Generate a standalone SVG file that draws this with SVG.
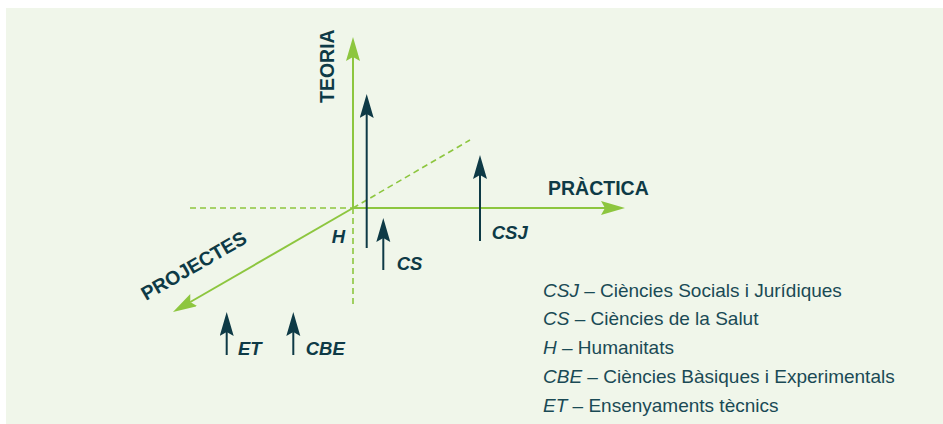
<svg xmlns="http://www.w3.org/2000/svg" width="943" height="424" viewBox="0 0 943 424">
<style>
.g{stroke:#8dc63f;stroke-width:2;fill:none}
.gd{stroke:#8dc63f;stroke-width:1.6;fill:none;stroke-dasharray:6 4}
.d{stroke:#0e3a46;stroke-width:2;fill:none}
.lab{font-family:"Liberation Sans",Arial,sans-serif;font-weight:bold;font-style:italic;font-size:18.5px;fill:#0e3a46}
.ax{font-family:"Liberation Sans",Arial,sans-serif;font-weight:bold;font-size:19.5px;fill:#0e3a46}
.leg{font-family:"Liberation Sans",Arial,sans-serif;font-size:19px;fill:#1a4a55}
.leg tspan.i{font-style:italic}
</style>
<defs>
<marker id="ag" markerUnits="userSpaceOnUse" markerWidth="26" markerHeight="16" viewBox="0 0 26 16" refX="4" refY="7" orient="auto">
<path d="M0,0 L24,7 L0,14 L4,7 Z" fill="#8dc63f"/>
</marker>
<marker id="ad" markerUnits="userSpaceOnUse" markerWidth="26" markerHeight="16" viewBox="0 0 26 16" refX="4" refY="7" orient="auto">
<path d="M0,0 L24,7 L0,14 L4,7 Z" fill="#0e3a46"/>
</marker>
</defs>
<rect x="6" y="8" width="937" height="416" fill="#f0f6ea"/>
<g id="connectors">
<line class="gd" x1="190" y1="208" x2="353" y2="208"/>
<line class="gd" x1="353" y1="208" x2="353" y2="307"/>
<line class="gd" x1="353" y1="208" x2="470" y2="140"/>
<line class="g" x1="353" y1="208" x2="353" y2="57" marker-end="url(#ag)"/>
<line class="g" x1="353" y1="208" x2="605" y2="208" marker-end="url(#ag)"/>
<line class="g" x1="353" y1="208" x2="190.3" y2="302" marker-end="url(#ag)"/>
<line class="d" x1="366.7" y1="248" x2="366.7" y2="114" marker-end="url(#ad)"/>
<line class="d" x1="383.3" y1="270" x2="383.3" y2="238" marker-end="url(#ad)"/>
<line class="d" x1="480" y1="241" x2="480" y2="175" marker-end="url(#ad)"/>
<line class="d" x1="226.7" y1="355" x2="226.7" y2="332" marker-end="url(#ad)"/>
<line class="d" x1="293.3" y1="355" x2="293.3" y2="332" marker-end="url(#ad)"/>
</g>
<g id="axis-teoria"><text class="ax" transform="translate(334,103) rotate(-90)">TEORIA</text></g>
<g id="axis-practica"><text class="ax" x="548" y="195">PRÀCTICA</text></g>
<g id="axis-projectes"><text class="ax" transform="translate(146,301) rotate(-30)">PROJECTES</text></g>
<g id="node-H"><text class="lab" x="331.7" y="243">H</text></g>
<g id="node-CS"><text class="lab" x="396.7" y="270">CS</text></g>
<g id="node-CSJ"><text class="lab" x="491.7" y="239">CSJ</text></g>
<g id="node-ET"><text class="lab" x="238" y="355">ET</text></g>
<g id="node-CBE"><text class="lab" x="305.7" y="355">CBE</text></g>
<g id="legend">
<text class="leg" x="543" y="296.5"><tspan class="i">CSJ</tspan> – Ciències Socials i Jurídiques</text>
<text class="leg" x="543" y="325"><tspan class="i">CS</tspan> – Ciències de la Salut</text>
<text class="leg" x="543" y="353.5"><tspan class="i">H</tspan> – Humanitats</text>
<text class="leg" x="543" y="383"><tspan class="i">CBE</tspan> – Ciències Bàsiques i Experimentals</text>
<text class="leg" x="543" y="411.5"><tspan class="i">ET</tspan> – Ensenyaments tècnics</text>
</g>
</svg>
